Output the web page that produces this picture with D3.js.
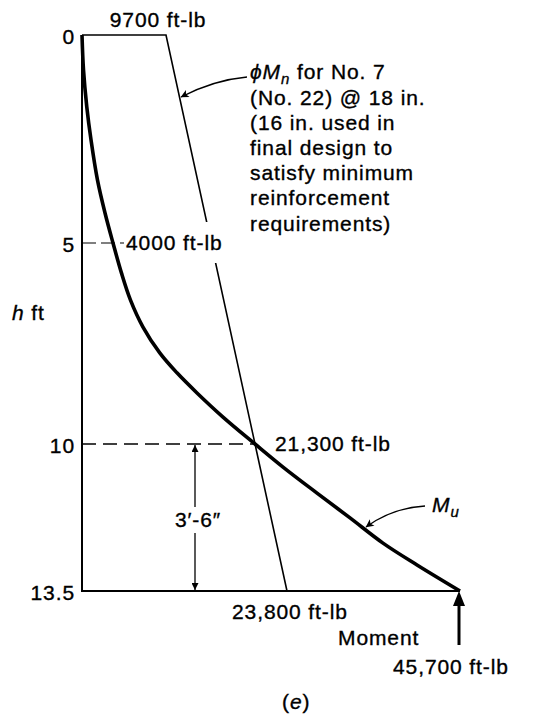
<!DOCTYPE html>
<html>
<head>
<meta charset="utf-8">
<script src="https://cdn.jsdelivr.net/npm/d3@7"></script>
<style>
  body { margin: 0; background: #fff; }
  svg text {
    font-family: "Liberation Sans", Arial, Helvetica, sans-serif;
    font-size: 21px;
    letter-spacing: 0.9px;
    fill: #000;
    stroke: #000;
    stroke-width: 0.35px;
  }
</style>
</head>
<body>
<svg id="chart" width="533" height="721"></svg>
<script>
// Factored moment Mu along the stem: height below top (ft) and moment (ft-lb)
const muHeight = [0, 0.84, 1.73, 2.52, 3.49, 4.28, 5, 5.75, 6.42, 7.09, 7.74, 8.23, 8.73, 9.33, 10, 10.55, 11.17, 11.76, 12.36, 12.88, 13.5];
const muMoment = [0, 194, 619, 1161, 2000, 2970, 4000, 4914, 5881, 7225, 9050, 11130, 13740, 17130, 21300, 23490, 27600, 31780, 35950, 40260, 45700];

// Design strength phiMn for No. 7 bars @ 18 in.
const phiHeight = [0, 0, 13.5];
const phiMoment = [0, 9700, 23800];

// Height axis ticks
const heightTicks = [0, 5, 10, 13.5];
const heightTickLabels = ["0", "5", "10", "13.5"];

// Moment values called out on the diagram (diagram is schematic, not to scale)
const momentKnots = [0, 4000, 9700, 21300, 23800, 45700];

// Callout text for the phiMn line
const phiNoteLines = [
  "(No. 22) @ 18 in.",
  "(16 in. used in",
  "final design to",
  "satisfy minimum",
  "reinforcement",
  "requirements)"
];

const svg = d3.select("#chart");

const x = d3.scaleLinear().domain(momentKnots).range([82, 113, 166, 255, 287, 460]);
const y = d3.scaleLinear().domain(heightTicks).range([35, 243, 444, 591]);

const defs = svg.append("defs");
defs.append("marker")
  .attr("id", "thinHead")
  .attr("viewBox", "0 0 10 10")
  .attr("refX", 9.5).attr("refY", 5)
  .attr("markerWidth", 11).attr("markerHeight", 8)
  .attr("markerUnits", "userSpaceOnUse")
  .attr("orient", "auto-start-reverse")
  .append("path").attr("d", "M0,0 L10,5 L0,10 L2.5,5 Z").attr("fill", "#000");

defs.append("marker")
  .attr("id", "dimHead")
  .attr("viewBox", "0 0 10 10")
  .attr("refX", 10).attr("refY", 5)
  .attr("markerWidth", 11).attr("markerHeight", 7)
  .attr("markerUnits", "userSpaceOnUse")
  .attr("orient", "auto-start-reverse")
  .append("path").attr("d", "M0,0 L10,5 L0,10 Z").attr("fill", "#000");

// Dashed leaders at h = 5 and h = 10
svg.append("line")
  .attr("x1", x(0)).attr("x2", x(4000) + 11)
  .attr("y1", y(5)).attr("y2", y(5))
  .attr("stroke", "#000").attr("stroke-width", 1.2)
  .attr("stroke-dasharray", "14,5");

svg.append("line")
  .attr("x1", x(0)).attr("x2", x(21300))
  .attr("y1", y(10)).attr("y2", y(10))
  .attr("stroke", "#000").attr("stroke-width", 1.3)
  .attr("stroke-dasharray", "14,7");

// phiMn line
const phiData = phiHeight.map((h, i) => ({ h, m: phiMoment[i] }));
svg.append("path")
  .datum(phiData)
  .attr("fill", "none")
  .attr("stroke", "#000")
  .attr("stroke-width", 1.6)
  .attr("stroke-linejoin", "miter")
  .attr("d", d3.line().x(d => x(d.m)).y(d => y(d.h)));

// Mu curve
const muData = muHeight.map((h, i) => ({ h, m: muMoment[i] }));
svg.append("path")
  .datum(muData)
  .attr("fill", "none")
  .attr("stroke", "#000")
  .attr("stroke-width", 3.6)
  .attr("stroke-linejoin", "round")
  .attr("d", d3.line().curve(d3.curveCatmullRom.alpha(0.5)).x(d => x(d.m)).y(d => y(d.h)));

// Height axis and base line
svg.append("line")
  .attr("x1", x(0)).attr("x2", x(0))
  .attr("y1", y(0)).attr("y2", y(13.5))
  .attr("stroke", "#000").attr("stroke-width", 2);

svg.append("line")
  .attr("x1", x(0) - 1).attr("x2", x(45700))
  .attr("y1", y(13.5)).attr("y2", y(13.5))
  .attr("stroke", "#000").attr("stroke-width", 2.2);

// Height tick labels
svg.selectAll("text.tick")
  .data(heightTicks)
  .join("text")
  .attr("class", "tick")
  .attr("x", 75)
  .attr("y", d => y(d) + 2)
  .attr("dy", "0.35em")
  .attr("text-anchor", "end")
  .text((d, i) => heightTickLabels[i]);

// Axis title
const hTitle = svg.append("text").attr("x", 12).attr("y", 313).attr("dy", "0.35em");
hTitle.append("tspan").attr("font-style", "italic").text("h");
hTitle.append("tspan").text(" ft");

// Value labels
svg.append("text")
  .attr("x", x(9700) - 8).attr("y", 20).attr("dy", "0.35em")
  .attr("text-anchor", "middle")
  .text("9700 ft-lb");

svg.append("rect")
  .attr("x", x(4000) + 11).attr("y", y(5) - 21)
  .attr("width", 106).attr("height", 41)
  .attr("fill", "#fff");
svg.append("text")
  .attr("x", x(4000) + 13).attr("y", y(5)).attr("dy", "0.35em")
  .text("4000 ft-lb");

svg.append("text")
  .attr("x", x(21300) + 20).attr("y", y(10)).attr("dy", "0.35em")
  .text("21,300 ft-lb");

svg.append("text")
  .attr("x", x(23800) - 55).attr("y", 612).attr("dy", "0.35em")
  .text("23,800 ft-lb");

svg.append("text")
  .attr("x", 338).attr("y", 638).attr("dy", "0.35em")
  .text("Moment");

svg.append("text")
  .attr("x", x(45700) - 67).attr("y", 667).attr("dy", "0.35em")
  .text("45,700 ft-lb");

const cap = svg.append("text").attr("x", 282).attr("y", 702).attr("dy", "0.35em");
cap.append("tspan").text("(");
cap.append("tspan").attr("font-style", "italic").text("e");
cap.append("tspan").text(")");

// Base moment arrow
const baseX = x(45700) - 1;
svg.append("line")
  .attr("x1", baseX).attr("x2", baseX)
  .attr("y1", 645).attr("y2", y(13.5) + 12)
  .attr("stroke", "#000").attr("stroke-width", 3);
svg.append("path")
  .attr("d", `M${baseX - 6},${y(13.5) + 15} L${baseX + 6},${y(13.5) + 15} L${baseX},${y(13.5)} Z`)
  .attr("fill", "#000");

// 3'-6" dimension
const dimX = 195;
svg.append("line")
  .attr("x1", dimX).attr("x2", dimX)
  .attr("y1", y(10) + 1).attr("y2", y(13.5) - 1)
  .attr("stroke", "#000").attr("stroke-width", 1.3)
  .attr("marker-start", "url(#dimHead)")
  .attr("marker-end", "url(#dimHead)");
svg.append("rect")
  .attr("x", 172).attr("y", 507).attr("width", 54).attr("height", 26)
  .attr("fill", "#fff");
svg.append("text")
  .attr("x", 198).attr("y", 520).attr("dy", "0.35em")
  .attr("text-anchor", "middle")
  .text("3\u2032-6\u2033");

// phiMn callout
const phiTitle = svg.append("text").attr("x", 250).attr("y", 72).attr("dy", "0.35em");
phiTitle.append("tspan").attr("font-style", "italic").text("\u03d5M");
phiTitle.append("tspan").attr("font-style", "italic").attr("font-size", "15px").attr("dy", "5").text("n");
phiTitle.append("tspan").attr("dy", "-5").text(" for No. 7");

svg.selectAll("text.note")
  .data(phiNoteLines)
  .join("text")
  .attr("class", "note")
  .attr("x", 250)
  .attr("y", (d, i) => 97.3 + i * 25.2)
  .attr("dy", "0.35em")
  .text(d => d);

svg.append("path")
  .attr("d", "M247,77 Q214,80 181,97")
  .attr("fill", "none").attr("stroke", "#000").attr("stroke-width", 1.3)
  .attr("marker-end", "url(#thinHead)");

// Mu callout
const muTitle = svg.append("text").attr("x", 432).attr("y", 505).attr("dy", "0.35em");
muTitle.append("tspan").attr("font-style", "italic").text("M");
muTitle.append("tspan").attr("font-style", "italic").attr("font-size", "15px").attr("dy", "5").text("u");

svg.append("path")
  .attr("d", "M425,506 Q392,508 366,527")
  .attr("fill", "none").attr("stroke", "#000").attr("stroke-width", 1.3)
  .attr("marker-end", "url(#thinHead)");
</script>
</body>
</html>
